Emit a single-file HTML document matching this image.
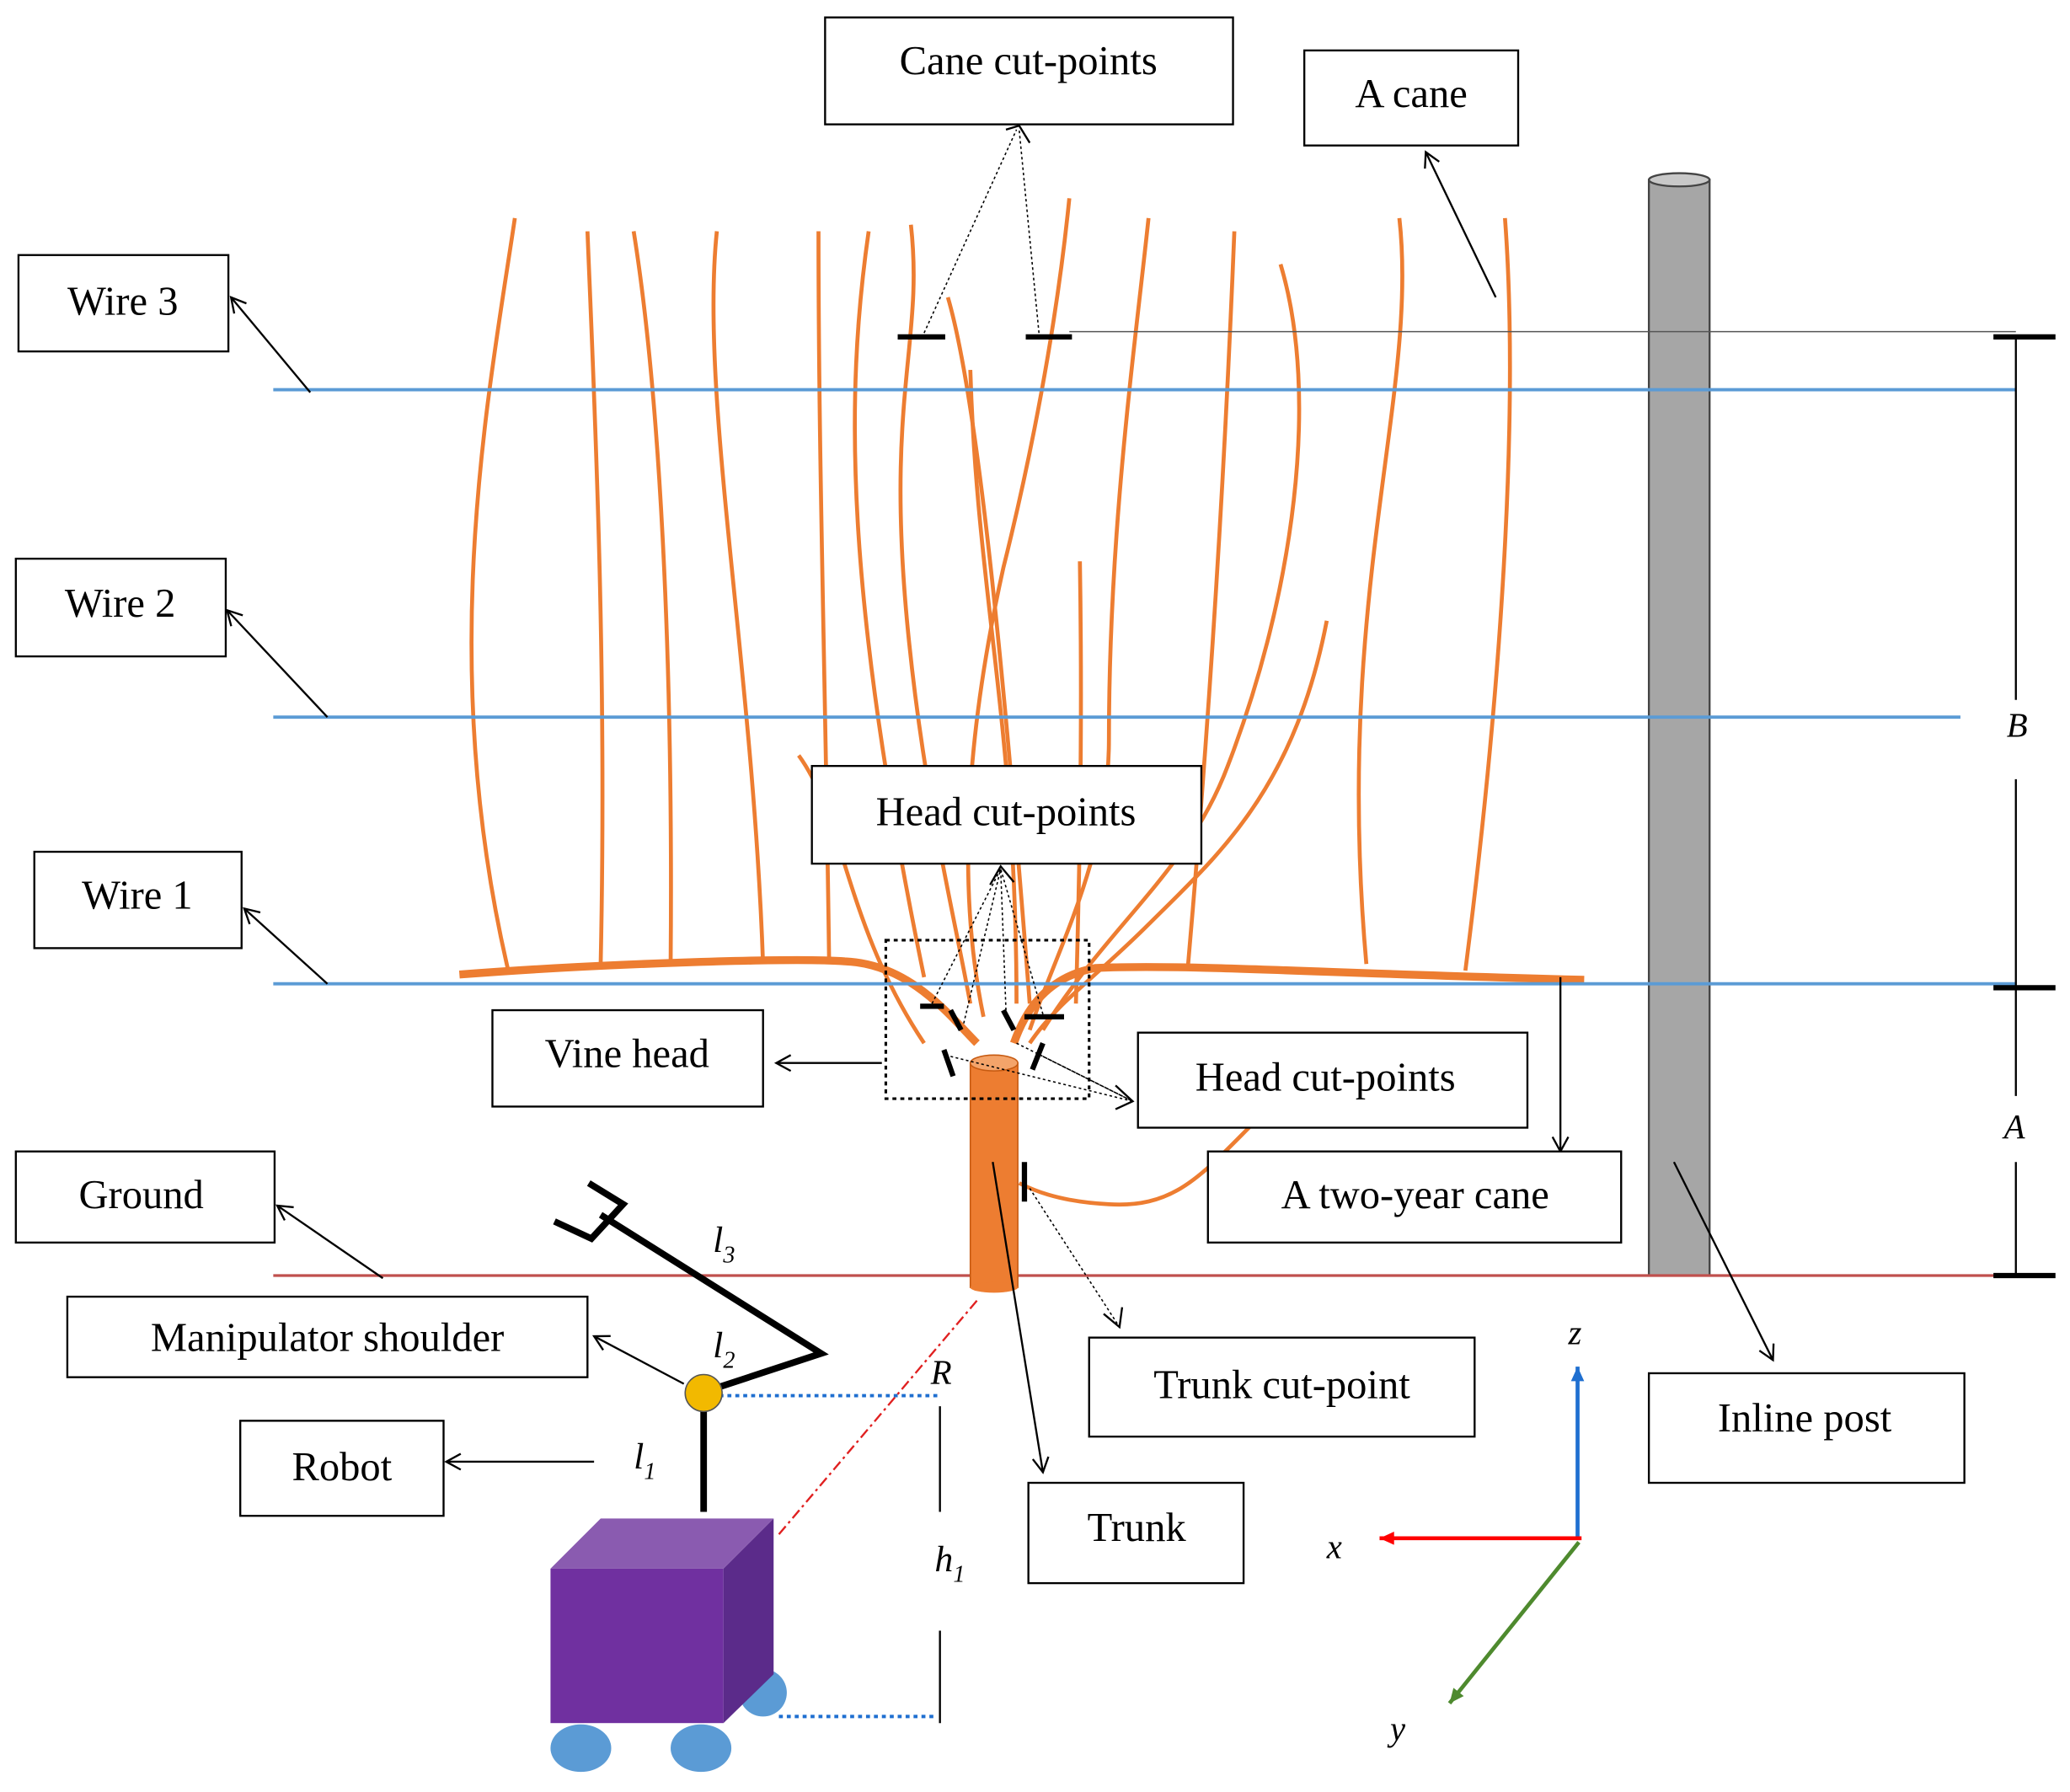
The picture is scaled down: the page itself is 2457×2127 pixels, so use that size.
<!DOCTYPE html>
<html><head><meta charset="utf-8"><style>
html,body{margin:0;padding:0;background:#fff}
svg{display:block}
text{font-family:"Liberation Serif",serif;fill:#000}
</style></head><body>
<svg width="2457" height="2127" viewBox="0 0 1568 1357" xmlns="http://www.w3.org/2000/svg">
<defs>
<marker id="ar" markerWidth="14" markerHeight="14" refX="12" refY="7" orient="auto" markerUnits="userSpaceOnUse">
<path d="M1,1 L12,7 L1,13" fill="none" stroke="#000" stroke-width="1.5"/></marker>
<marker id="arb" markerWidth="14" markerHeight="14" refX="12" refY="7" orient="auto" markerUnits="userSpaceOnUse">
<path d="M1,2 L12,7 L1,12 Z" fill="#1f6fd0"/></marker>
<marker id="arr" markerWidth="14" markerHeight="14" refX="12" refY="7" orient="auto" markerUnits="userSpaceOnUse">
<path d="M1,2 L12,7 L1,12 Z" fill="#f00"/></marker>
<marker id="arg" markerWidth="14" markerHeight="14" refX="12" refY="7" orient="auto" markerUnits="userSpaceOnUse">
<path d="M1,2 L12,7 L1,12 Z" fill="#4e8a2e"/></marker>
</defs>
<rect width="1568" height="1357" fill="#fff"/>

<!-- post -->
<rect x="1249" y="136" width="46" height="830" fill="#a6a6a6" stroke="#444" stroke-width="1.5"/>
<ellipse cx="1272" cy="136" rx="23" ry="5" fill="#c8c8c8" stroke="#444" stroke-width="1.5"/>

<!-- canes -->
<g fill="none" stroke="#ed7d31" stroke-width="3">
<path d="M390,165 C370,300 330,500 385,735"/>
<path d="M445,175 C450,300 460,500 455,730"/>
<path d="M480,175 C500,300 510,500 508,730"/>
<path d="M543,175 C530,300 570,500 578,730"/>
<path d="M620,175 C620,350 625,500 628,725"/>
<path d="M658,175 C640,300 640,450 700,740"/>
<path d="M690,170 C700,260 670,300 688,480 C700,600 720,680 735,760"/>
<path d="M718,225 C740,300 760,500 780,760"/>
<path d="M810,150 C800,250 780,350 760,430 C740,520 720,650 745,770"/>
<path d="M735,280 C740,450 770,550 770,760"/>
<path d="M818,425 C820,550 818,650 815,760"/>
<path d="M870,165 C860,260 840,400 840,560 C840,650 800,720 780,780"/>
<path d="M935,175 C930,300 920,500 900,730"/>
<path d="M970,200 C1000,300 980,450 930,580 C900,660 840,700 790,780"/>
<path d="M1005,470 C980,600 920,650 870,700 C830,740 800,760 780,790"/>
<path d="M1060,165 C1075,300 1010,450 1035,730"/>
<path d="M1140,165 C1150,300 1140,500 1110,735"/>
<path d="M605,572 C640,620 640,700 700,790"/>
<path d="M950,850 C910,890 890,915 840,912 C800,910 780,900 772,896"/>
</g>
<path d="M348,738 C450,730 600,725 640,728 C690,730 720,770 740,790" fill="none" stroke="#ed7d31" stroke-width="6"/>
<path d="M1200,742 C1000,737 900,730 830,733 C790,740 775,770 768,790" fill="none" stroke="#ed7d31" stroke-width="6"/>

<!-- wires -->
<g stroke="#5b9bd5" stroke-width="2.5">
<line x1="207" y1="295" x2="1527" y2="295"/>
<line x1="207" y1="543" x2="1485" y2="543"/>
<line x1="207" y1="745" x2="1527" y2="745"/>
</g>
<line x1="207" y1="966" x2="1527" y2="966" stroke="#c0504d" stroke-width="2"/>

<!-- trunk -->
<rect x="735" y="805" width="36" height="170" fill="#ed7d31" stroke="#c65a11" stroke-width="1"/>
<ellipse cx="753" cy="805" rx="18" ry="6" fill="#f4a46a" stroke="#c65a11"/>
<ellipse cx="753" cy="975" rx="18" ry="4" fill="#ed7d31"/>

<!-- cut marks -->
<g stroke="#000" stroke-width="4">
<line x1="680" y1="255" x2="716" y2="255"/>
<line x1="777" y1="255" x2="812" y2="255"/>
<line x1="697" y1="762" x2="715" y2="762"/>
<line x1="776" y1="770" x2="806" y2="770"/>
<line x1="720" y1="765" x2="728" y2="780"/>
<line x1="760" y1="765" x2="768" y2="780"/>
<line x1="715" y1="795" x2="722" y2="815"/>
<line x1="790" y1="790" x2="782" y2="810"/>
<line x1="776" y1="880" x2="776" y2="910"/>
</g>

<!-- vine head dotted box -->
<rect x="671" y="712" width="154" height="120" fill="none" stroke="#000" stroke-width="2" stroke-dasharray="3,3"/>

<!-- dotted pointers -->
<g stroke="#000" stroke-width="1" stroke-dasharray="2,2" fill="none">
<line x1="700" y1="252" x2="770" y2="98"/>
<line x1="787" y1="252" x2="772" y2="98"/>
<line x1="706" y1="760" x2="758" y2="658"/>
<line x1="730" y1="775" x2="758" y2="658"/>
<line x1="762" y1="765" x2="758" y2="658"/>
<line x1="790" y1="768" x2="758" y2="658"/>
<line x1="720" y1="800" x2="858" y2="834"/>
<line x1="770" y1="790" x2="858" y2="834"/>
<line x1="790" y1="800" x2="858" y2="834"/>
<line x1="780" y1="900" x2="848" y2="1005"/>
</g>
<polyline points="762,98 772,95 780,108" fill="none" stroke="#000" stroke-width="1.5"/>
<polyline points="750,670 758,656 768,668" fill="none" stroke="#000" stroke-width="1.5"/>
<polyline points="845,822 858,834 845,840" fill="none" stroke="#000" stroke-width="1.5"/>
<polyline points="836,995 848,1005 850,990" fill="none" stroke="#000" stroke-width="1.5"/>

<!-- dimension -->
<line x1="810" y1="251" x2="1527" y2="251" stroke="#555" stroke-width="1"/>
<g stroke="#000" stroke-width="1.5">
<line x1="1527" y1="255" x2="1527" y2="530"/>
<line x1="1527" y1="590" x2="1527" y2="830"/>
<line x1="1527" y1="880" x2="1527" y2="966"/>
</g>
<g stroke="#000" stroke-width="4">
<line x1="1510" y1="255" x2="1557" y2="255"/>
<line x1="1510" y1="748" x2="1557" y2="748"/>
<line x1="1510" y1="966" x2="1557" y2="966"/>
</g>
<text x="1520" y="558" font-size="26" font-style="italic">B</text>
<text x="1518" y="862" font-size="26" font-style="italic">A</text>

<!-- solid arrows -->
<g stroke="#000" stroke-width="1.5" fill="none" marker-end="url(#ar)">
<line x1="1133" y1="225" x2="1080" y2="115"/>
<line x1="235" y1="297" x2="175" y2="225"/>
<line x1="248" y1="543" x2="172" y2="462"/>
<line x1="248" y1="745" x2="185" y2="688"/>
<line x1="290" y1="968" x2="210" y2="913"/>
<line x1="668" y1="805" x2="588" y2="805"/>
<line x1="1182" y1="740" x2="1182" y2="872"/>
<line x1="752" y1="880" x2="790" y2="1115"/>
<line x1="1268" y1="880" x2="1343" y2="1030"/>
<line x1="518" y1="1048" x2="450" y2="1012"/>
<line x1="450" y1="1107" x2="338" y2="1107"/>
</g>

<!-- robot -->
<line x1="590" y1="1162" x2="740" y2="985" stroke="#e02020" stroke-width="1.5" stroke-dasharray="8,3,2,3"/>
<g stroke="#1f6fd0" stroke-width="2.5" stroke-dasharray="3,3">
<line x1="545" y1="1057" x2="710" y2="1057"/>
<line x1="590" y1="1300" x2="710" y2="1300"/>
</g>
<g stroke="#000" stroke-width="1.5">
<line x1="712" y1="1065" x2="712" y2="1145"/>
<line x1="712" y1="1235" x2="712" y2="1305"/>
</g>
<ellipse cx="578" cy="1282" rx="18" ry="18" fill="#5b9bd5"/>
<polygon points="548,1188 586,1150 586,1268 548,1305" fill="#5b2b8a"/>
<polygon points="417,1188 455,1150 586,1150 548,1188" fill="#8a5bb0"/>
<rect x="417" y="1188" width="131" height="117" fill="#7030a0"/>
<ellipse cx="440" cy="1324" rx="23" ry="18" fill="#5b9bd5"/>
<ellipse cx="531" cy="1324" rx="23" ry="18" fill="#5b9bd5"/>
<g stroke="#000" stroke-width="5" fill="none" stroke-linejoin="miter">
<line x1="533" y1="1068" x2="533" y2="1145"/>
<polyline points="540,1052 622,1025 455,920"/>
<polyline points="420,925 448,938 472,912 446,896"/>
</g>
<circle cx="533" cy="1055" r="14" fill="#f2b900" stroke="#555" stroke-width="1"/>
<text x="540" y="948" font-size="28" font-style="italic">l<tspan font-size="18" dy="8">3</tspan></text>
<text x="540" y="1028" font-size="28" font-style="italic">l<tspan font-size="18" dy="8">2</tspan></text>
<text x="480" y="1112" font-size="28" font-style="italic">l<tspan font-size="18" dy="8">1</tspan></text>
<text x="705" y="1048" font-size="26" font-style="italic">R</text>
<text x="708" y="1190" font-size="28" font-style="italic">h<tspan font-size="18" dy="8">1</tspan></text>

<!-- axes -->
<line x1="1195" y1="1165" x2="1195" y2="1035" stroke="#1f6fd0" stroke-width="3" marker-end="url(#arb)"/>
<line x1="1198" y1="1165" x2="1045" y2="1165" stroke="#f00" stroke-width="3" marker-end="url(#arr)"/>
<line x1="1196" y1="1168" x2="1098" y2="1290" stroke="#4e8a2e" stroke-width="3" marker-end="url(#arg)"/>
<text x="1188" y="1018" font-size="26" font-style="italic">z</text>
<text x="1005" y="1180" font-size="26" font-style="italic">x</text>
<text x="1053" y="1318" font-size="26" font-style="italic">y</text>

<!-- label boxes -->
<g fill="#fff" stroke="#000" stroke-width="1.5">
<rect x="625" y="13" width="309" height="81"/>
<rect x="988" y="38" width="162" height="72"/>
<rect x="14" y="193" width="159" height="73"/>
<rect x="12" y="423" width="159" height="74"/>
<rect x="26" y="645" width="157" height="73"/>
<rect x="615" y="580" width="295" height="74"/>
<rect x="373" y="765" width="205" height="73"/>
<rect x="862" y="782" width="295" height="72"/>
<rect x="915" y="872" width="313" height="69"/>
<rect x="12" y="872" width="196" height="69"/>
<rect x="51" y="982" width="394" height="61"/>
<rect x="182" y="1076" width="154" height="72"/>
<rect x="825" y="1013" width="292" height="75"/>
<rect x="779" y="1123" width="163" height="76"/>
<rect x="1249" y="1040" width="239" height="83"/>
</g>
<g font-size="31" text-anchor="middle">
<text x="779" y="56">Cane cut-points</text>
<text x="1069" y="81">A cane</text>
<text x="93" y="238">Wire 3</text>
<text x="91" y="467">Wire 2</text>
<text x="104" y="688">Wire 1</text>
<text x="762" y="625">Head cut-points</text>
<text x="475" y="808">Vine head</text>
<text x="1004" y="826">Head cut-points</text>
<text x="1072" y="915">A two-year cane</text>
<text x="107" y="915">Ground</text>
<text x="248" y="1023">Manipulator shoulder</text>
<text x="259" y="1121">Robot</text>
<text x="971" y="1059">Trunk cut-point</text>
<text x="861" y="1167">Trunk</text>
<text x="1367" y="1084">Inline post</text>
</g>
</svg>
</body></html>
